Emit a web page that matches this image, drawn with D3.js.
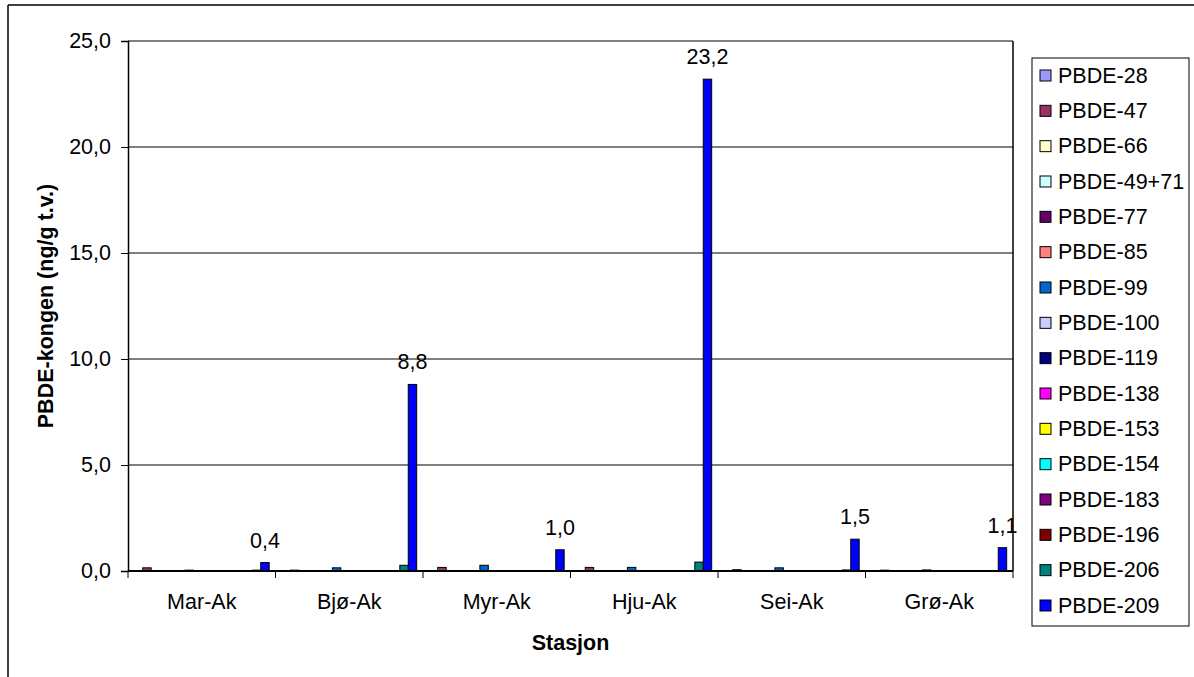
<!DOCTYPE html>
<html><head><meta charset="utf-8">
<script src="https://cdn.jsdelivr.net/npm/d3@7"></script>
<style>body{margin:0;background:#fff}svg{display:block}text{font-family:"Liberation Sans",Arial,sans-serif}</style>
</head><body>
<svg id="c" width="1194" height="677"></svg>
<script>
const categories = ["Mar-Ak","Bjø-Ak","Myr-Ak","Hju-Ak","Sei-Ak","Grø-Ak"];
const seriesNames = ["PBDE-28","PBDE-47","PBDE-66","PBDE-49+71","PBDE-77","PBDE-85","PBDE-99","PBDE-100","PBDE-119","PBDE-138","PBDE-153","PBDE-154","PBDE-183","PBDE-196","PBDE-206","PBDE-209"];
const seriesColors = ["#9999FF","#993366","#FFFFCC","#CCFFFF","#660066","#FF8080","#0066CC","#CCCCFF","#000080","#FF00FF","#FFFF00","#00FFFF","#800080","#800000","#008080","#0000FF"];
// values per series, one per category
const pbde28   = [0,0,0,0,0,0];
const pbde47   = [0.15,0.04,0.17,0.17,0.06,0.04];
const pbde66   = [0,0,0,0,0,0];
const pbde4971 = [0,0,0,0,0,0];
const pbde77   = [0,0,0,0,0,0];
const pbde85   = [0,0,0,0,0,0];
const pbde99   = [0.04,0.15,0.27,0.17,0.15,0.05];
const pbde100  = [0,0,0,0,0,0];
const pbde119  = [0,0,0,0,0,0];
const pbde138  = [0,0,0,0,0,0];
const pbde153  = [0,0,0,0,0,0];
const pbde154  = [0,0,0,0,0,0];
const pbde183  = [0,0,0,0,0,0];
const pbde196  = [0,0,0,0,0,0];
const pbde206  = [0.04,0.27,0,0.42,0.05,0];
const pbde209  = [0.4,8.8,1.0,23.2,1.5,1.1];
const seriesValues = [pbde28,pbde47,pbde66,pbde4971,pbde77,pbde85,pbde99,pbde100,pbde119,pbde138,pbde153,pbde154,pbde183,pbde196,pbde206,pbde209];
const yTicks = [0,5,10,15,20,25];
const labelSeries = "PBDE-209";

const svg = d3.select("#c");
const L = 128, R = 1013, T = 41, B = 571;
const FS = 21.5;

// chart outer border (top & left)
svg.append("line").attr("x1",8).attr("y1",5).attr("x2",1194).attr("y2",5).attr("stroke","#000").attr("stroke-width",1.5);
svg.append("line").attr("x1",8).attr("y1",5).attr("x2",8).attr("y2",677).attr("stroke","#000").attr("stroke-width",1.5);

const y = d3.scaleLinear().domain([0,25]).range([B,T]);
const x0 = d3.scaleBand().domain(categories).range([L,R]).paddingInner(0).paddingOuter(0);
const gw = x0.bandwidth();
const bw = gw/17.5; // Excel gap width 150%
const x1 = d3.scaleBand().domain(seriesNames).range([bw*0.75, gw - bw*0.75]).paddingInner(0).paddingOuter(0);

// gridlines
svg.append("g").selectAll("line").data(yTicks.filter(d=>d>0)).join("line")
  .attr("x1",L).attr("x2",R).attr("y1",d=>y(d)).attr("y2",d=>y(d))
  .attr("stroke","#000").attr("stroke-width",1);
// right plot border
svg.append("line").attr("x1",R).attr("x2",R).attr("y1",T).attr("y2",B).attr("stroke","#000").attr("stroke-width",1.5);

// bars
const g = svg.append("g");
seriesNames.forEach((s,si)=>{
  g.append("g").selectAll("rect").data(categories.map((c,ci)=>({c,v:seriesValues[si][ci]})).filter(d=>d.v>0)).join("rect")
    .attr("x",d=>x0(d.c)+x1(s))
    .attr("width",x1.bandwidth())
    .attr("y",d=>y(d.v))
    .attr("height",d=>B-y(d.v))
    .attr("fill",seriesColors[si])
    .attr("stroke","#000").attr("stroke-width",1);
});

// y axis
const yAxis = d3.axisLeft(y).tickValues(yTicks).tickSize(7).tickPadding(10).tickFormat(d=>d3.format(".1f")(d).replace(".",","));
const ya = svg.append("g").attr("transform",`translate(${L},0)`).call(yAxis);
ya.select(".domain").attr("stroke","#000").attr("stroke-width",1.5);
ya.selectAll("text").attr("font-size",FS).attr("fill","#000").style("font-family","Liberation Sans, Arial, sans-serif");
ya.selectAll(".tick line").attr("stroke","#000");

// x axis
const xa = svg.append("g").attr("transform",`translate(0,${B})`);
xa.append("line").attr("x1",L).attr("x2",R).attr("stroke","#000").attr("stroke-width",2);
const bounds = categories.map(c=>x0(c)).concat([R]);
xa.selectAll("line.t").data(bounds).join("line").attr("class","t")
  .attr("x1",d=>d).attr("x2",d=>d).attr("y1",0).attr("y2",7).attr("stroke","#000");
xa.selectAll("text").data(categories).join("text")
  .attr("x",d=>x0(d)+gw/2).attr("y",38).attr("text-anchor","middle")
  .attr("font-size",FS).attr("fill","#000").text(d=>d);

// data labels
const li = seriesNames.indexOf(labelSeries);
svg.append("g").selectAll("text").data(categories.map((c,ci)=>({c,v:seriesValues[li][ci]}))).join("text")
  .attr("x",d=>x0(d.c)+x1(labelSeries)+x1.bandwidth()/2)
  .attr("y",d=>y(d.v)-15)
  .attr("text-anchor","middle").attr("font-size",FS).attr("fill","#000")
  .text(d=>d3.format(".1f")(d.v).replace(".",","));

// axis titles
svg.append("text").attr("x",(L+R)/2).attr("y",650).attr("text-anchor","middle")
  .attr("font-size",FS).attr("font-weight","bold").text("Stasjon");
svg.append("text").attr("transform",`translate(53,${(T+B)/2}) rotate(-90)`).attr("text-anchor","middle")
  .attr("font-size",FS).attr("font-weight","bold").text("PBDE-kongen (ng/g t.v.)");

// legend
const lg = svg.append("g");
lg.append("rect").attr("x",1032).attr("y",58).attr("width",157).attr("height",568)
  .attr("fill","#fff").attr("stroke","#000").attr("stroke-width",1);
const ly = d3.scalePoint().domain(seriesNames).range([75,605]);
seriesNames.forEach((s,i)=>{
  lg.append("rect").attr("x",1040).attr("y",ly(s)-5).attr("width",11).attr("height",11)
    .attr("fill",seriesColors[i]).attr("stroke","#000").attr("stroke-width",1);
  lg.append("text").attr("x",1058).attr("y",ly(s)+7.5).attr("font-size",FS).attr("fill","#000").text(s);
});
</script>
</body></html>
